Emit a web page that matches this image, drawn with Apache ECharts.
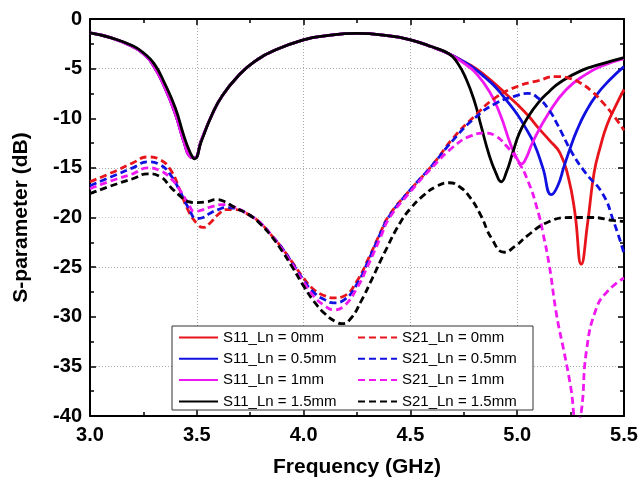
<!DOCTYPE html>
<html>
<head>
<meta charset="utf-8">
<title>s_parameter</title>
<script src="https://cdn.jsdelivr.net/npm/echarts@6/dist/echarts.min.js"></script>
<style>
    html, body { margin: 0; padding: 0; background: #fff; }
    #main { width: 641px; height: 483px; }
</style>
</head>
<body>
<div id="main"></div>
<script>
// S11 part shared by the widths (up to ~4.68 GHz); coloured ones sit a hair left of black on the first dip
var s11CommonFreq = [3.0, 3.1, 3.2, 3.25, 3.3, 3.35, 3.4, 3.44, 3.47, 3.49, 3.52, 3.57, 3.62, 3.7, 3.77, 3.87, 4.0, 4.1, 4.25, 4.4, 4.5, 4.6, 4.68];
var s11BlackVal = [-1.4, -1.9, -2.7, -3.4, -4.5, -6.5, -9.0, -11.8, -13.5, -14.1, -12.4, -9.7, -7.7, -5.6, -4.3, -3.1, -2.1, -1.7, -1.45, -1.7, -2.1, -2.8, -3.5];
var s11ColorVal = [-1.4, -1.9, -2.8, -3.5, -4.8, -6.9, -9.6, -12.4, -13.9, -14.0, -12.3, -9.7, -7.7, -5.6, -4.3, -3.1, -2.1, -1.7, -1.45, -1.7, -2.1, -2.8, -3.5];

// S11 tails after they split
var s11Freq0 = [4.75, 4.8, 4.85, 4.9, 4.95, 5.0, 5.05, 5.1, 5.15, 5.2, 5.24, 5.27, 5.3, 5.33, 5.36, 5.39, 5.42, 5.46, 5.5];
var s11Val0 = [-4.3, -4.9, -5.7, -6.6, -7.6, -8.6, -9.7, -11.0, -12.2, -13.5, -16.0, -19.5, -24.7, -20.5, -15.5, -12.8, -10.7, -8.8, -7.1];
var s11Freq05 = [4.75, 4.8, 4.85, 4.9, 4.95, 5.0, 5.04, 5.08, 5.12, 5.16, 5.19, 5.22, 5.25, 5.28, 5.32, 5.37, 5.43, 5.5];
var s11Val05 = [-4.3, -5.0, -5.9, -6.9, -8.2, -9.6, -11.0, -12.6, -15.0, -17.7, -16.8, -14.8, -12.9, -11.2, -9.4, -7.7, -6.2, -4.8];
var s11Freq1 = [4.72, 4.76, 4.8, 4.87, 4.92, 4.97, 5.0, 5.02, 5.04, 5.075, 5.15, 5.23, 5.32, 5.4, 5.5];
var s11Val1 = [-4.0, -4.6, -5.3, -7.3, -9.6, -12.7, -14.1, -14.6, -14.1, -12.3, -9.4, -7.1, -5.6, -4.7, -4.0];
var s11Freq15 = [4.72, 4.76, 4.8, 4.83, 4.87, 4.9, 4.925, 4.95, 4.98, 5.01, 5.05, 5.1, 5.15, 5.2, 5.3, 5.4, 5.5];
var s11Val15 = [-4.4, -6.0, -8.3, -10.7, -13.8, -15.5, -16.4, -15.4, -13.4, -11.5, -9.9, -8.4, -7.3, -6.4, -5.2, -4.5, -3.9];

// S21
var s21Freq0 = [3.0, 3.1, 3.2, 3.27, 3.33, 3.38, 3.42, 3.46, 3.5, 3.53, 3.56, 3.6, 3.64, 3.68, 3.75, 3.8, 3.85, 3.9, 3.95, 4.0, 4.05, 4.1, 4.14, 4.19, 4.25, 4.3, 4.36, 4.4, 4.5, 4.6, 4.7, 4.8, 4.9, 5.0, 5.1, 5.18, 5.25, 5.3, 5.35, 5.4, 5.45, 5.5];
var s21Val0 = [-16.4, -15.5, -14.5, -13.9, -14.2, -15.3, -17.2, -19.3, -20.6, -21.0, -20.6, -19.7, -19.2, -19.2, -19.8, -20.6, -21.8, -23.1, -24.6, -26.1, -27.3, -27.9, -28.1, -27.9, -26.4, -24.3, -21.5, -19.8, -17.2, -14.8, -12.0, -9.8, -7.9, -6.8, -6.2, -5.8, -6.0, -6.5, -7.3, -8.4, -9.7, -11.2];
var s21Freq05 = [3.0, 3.1, 3.2, 3.27, 3.33, 3.38, 3.42, 3.46, 3.5, 3.53, 3.56, 3.6, 3.64, 3.68, 3.75, 3.8, 3.85, 3.9, 3.95, 4.0, 4.05, 4.1, 4.14, 4.19, 4.25, 4.3, 4.36, 4.4, 4.5, 4.6, 4.7, 4.8, 4.9, 5.0, 5.05, 5.1, 5.15, 5.19, 5.26, 5.32, 5.4, 5.45, 5.5];
var s21Val05 = [-16.8, -15.9, -15.0, -14.4, -14.7, -15.8, -17.3, -19.0, -20.1, -20.0, -19.6, -19.2, -19.0, -19.1, -19.8, -20.6, -21.8, -23.1, -24.7, -26.3, -27.6, -28.3, -28.6, -28.3, -26.7, -24.5, -21.6, -19.9, -17.2, -14.8, -12.2, -10.0, -8.5, -7.7, -7.5, -8.0, -9.2, -10.7, -13.6, -15.5, -17.6, -20.3, -23.6];
var s21Freq1 = [3.0, 3.1, 3.2, 3.27, 3.33, 3.38, 3.42, 3.46, 3.49, 3.53, 3.57, 3.62, 3.67, 3.75, 3.8, 3.85, 3.9, 3.95, 4.0, 4.05, 4.1, 4.14, 4.19, 4.25, 4.3, 4.36, 4.4, 4.5, 4.6, 4.7, 4.78, 4.85, 4.9, 4.95, 5.0, 5.05, 5.1, 5.12, 5.15, 5.185, 5.22, 5.25, 5.28, 5.3, 5.325, 5.37, 5.42, 5.5];
var s21Val1 = [-17.1, -16.3, -15.6, -15.0, -15.3, -16.1, -17.2, -18.6, -19.4, -19.2, -18.9, -18.7, -18.9, -19.8, -20.6, -21.8, -23.2, -24.8, -26.5, -28.0, -28.9, -29.3, -28.9, -27.1, -24.9, -22.0, -20.1, -17.4, -15.0, -12.9, -11.8, -11.5, -11.8, -12.8, -14.2, -16.3, -19.6, -21.5, -24.8, -29.9, -33.6, -37.0, -41.0, -39.6, -33.3, -29.2, -27.5, -26.1];
var s21Freq15 = [3.0, 3.1, 3.2, 3.27, 3.33, 3.38, 3.42, 3.46, 3.5, 3.55, 3.59, 3.63, 3.67, 3.75, 3.8, 3.85, 3.9, 3.95, 4.0, 4.05, 4.1, 4.15, 4.18, 4.22, 4.27, 4.32, 4.38, 4.45, 4.5, 4.56, 4.62, 4.68, 4.73, 4.78, 4.83, 4.88, 4.94, 4.99, 5.05, 5.14, 5.25, 5.35, 5.45, 5.5];
var s21Val15 = [-17.6, -16.8, -16.1, -15.6, -15.9, -17.0, -17.8, -18.4, -18.5, -18.4, -18.2, -18.4, -18.9, -19.8, -20.7, -21.9, -23.4, -25.1, -26.9, -28.5, -29.7, -30.5, -30.7, -30.2, -28.4, -26.2, -23.5, -20.6, -19.1, -17.8, -16.9, -16.5, -16.9, -18.0, -19.8, -22.1, -23.5, -22.9, -21.8, -20.5, -20.0, -20.0, -20.3, -20.4];

function pairs(fs, vs) {
    var out = [];
    for (var i = 0; i < fs.length; i++) out.push([fs[i], vs[i]]);
    return out;
}

var myChart = echarts.init(document.getElementById('main'), null, { renderer: 'canvas' });

function curve(name, color, dash, fs, vs) {
    return {
        name: name, type: 'line', xAxisIndex: 0, yAxisIndex: 0,
        symbol: 'none', smooth: 0.5,
        lineStyle: { color: color, width: 2.8, type: dash ? [7, 4] : 'solid' },
        itemStyle: { color: color },
        data: pairs(fs, vs)
    };
}

var gridColor = '#aaa';
var tickStyle = { show: true, inside: true, length: 6, lineStyle: { color: '#000', width: 1.5 } };
var minorStyle = { show: true, splitNumber: 2, length: 4, lineStyle: { color: '#000', width: 1.5 } };
var lineBlack = { show: true, onZero: false, lineStyle: { color: '#000', width: 2 } };
var legendText = { fontFamily: 'Arial', fontSize: 15, color: '#000' };
// hide the circle ECharts puts in the middle of line legend icons
var noDot = { color: 'transparent', borderColor: 'transparent', borderWidth: 0 };

var option = {
    animation: false,
    backgroundColor: '#fff',
    grid: { left: 90, right: 17, top: 19, bottom: 66 },
    graphic: {
        elements: [{
            type: 'rect', z: 10,
            shape: { x: 172, y: 326, width: 361, height: 84 },
            style: { fill: '#fff', stroke: '#333', lineWidth: 1 }
        }]
    },
    legend: [
        {
            z: 20, orient: 'vertical', left: 178, top: 330, padding: 0,
            itemWidth: 39, itemHeight: 14, itemGap: 6.3,
            textStyle: legendText, itemStyle: noDot,
            data: ['S11_Ln = 0mm', 'S11_Ln = 0.5mm', 'S11_Ln = 1mm', 'S11_Ln = 1.5mm']
        },
        {
            z: 20, orient: 'vertical', left: 357, top: 330, padding: 0,
            itemWidth: 39, itemHeight: 14, itemGap: 6.3,
            textStyle: legendText, itemStyle: noDot,
            data: ['S21_Ln = 0mm', 'S21_Ln = 0.5mm', 'S21_Ln = 1mm', 'S21_Ln = 1.5mm']
        }
    ],
    xAxis: [
        {
            type: 'value', position: 'bottom', min: 3, max: 5.5, interval: 0.5,
            name: 'Frequency (GHz)', nameLocation: 'middle', nameGap: 41,
            nameTextStyle: { fontFamily: 'Arial', fontWeight: 'bold', fontSize: 21, color: '#000' },
            axisLine: lineBlack, axisTick: tickStyle, minorTick: minorStyle,
            axisLabel: {
                margin: 9, fontFamily: 'Arial', fontWeight: 'bold', fontSize: 20, color: '#000',
                formatter: function (v) { return v.toFixed(1); }
            },
            splitLine: {
                show: true, showMinLine: true, showMaxLine: true,
                lineStyle: { type: [1, 2], width: 1, color: ['transparent', gridColor, gridColor, gridColor, gridColor, 'transparent'] }
            }
        },
        {
            type: 'value', position: 'top', min: 3, max: 5.5, interval: 0.5,
            axisLine: lineBlack, axisTick: tickStyle, minorTick: minorStyle,
            axisLabel: { show: false }, splitLine: { show: false }
        }
    ],
    yAxis: [
        {
            type: 'value', position: 'left', min: -40, max: 0, interval: 5,
            name: 'S-parameter (dB)', nameLocation: 'middle', nameGap: 58,
            nameTextStyle: { fontFamily: 'Arial', fontWeight: 'bold', fontSize: 21, color: '#000' },
            axisLine: lineBlack, axisTick: tickStyle, minorTick: minorStyle,
            axisLabel: { margin: 8, fontFamily: 'Arial', fontWeight: 'bold', fontSize: 20, color: '#000' },
            splitLine: {
                show: true, showMinLine: true, showMaxLine: true,
                lineStyle: {
                    type: [1, 2], width: 1,
                    color: ['transparent', gridColor, 'transparent', gridColor, '#ccc', gridColor, 'transparent', gridColor, 'transparent']
                }
            }
        },
        {
            type: 'value', position: 'right', min: -40, max: 0, interval: 5,
            axisLine: lineBlack, axisTick: tickStyle, minorTick: minorStyle,
            axisLabel: { show: false }, splitLine: { show: false }
        }
    ],
    series: [
        curve('S11_Ln = 0mm', '#e8141b', false, s11CommonFreq.concat(s11Freq0), s11ColorVal.concat(s11Val0)),
        curve('S11_Ln = 0.5mm', '#1010e0', false, s11CommonFreq.concat(s11Freq05), s11ColorVal.concat(s11Val05)),
        curve('S11_Ln = 1mm', '#f018f0', false, s11CommonFreq.concat(s11Freq1), s11ColorVal.concat(s11Val1)),
        curve('S11_Ln = 1.5mm', '#000000', false, s11CommonFreq.concat(s11Freq15), s11BlackVal.concat(s11Val15)),
        curve('S21_Ln = 0mm', '#e8141b', true, s21Freq0, s21Val0),
        curve('S21_Ln = 0.5mm', '#1010e0', true, s21Freq05, s21Val05),
        curve('S21_Ln = 1mm', '#f018f0', true, s21Freq1, s21Val1),
        curve('S21_Ln = 1.5mm', '#000000', true, s21Freq15, s21Val15)
    ]
};
myChart.setOption(option);
</script>
</body>
</html>
